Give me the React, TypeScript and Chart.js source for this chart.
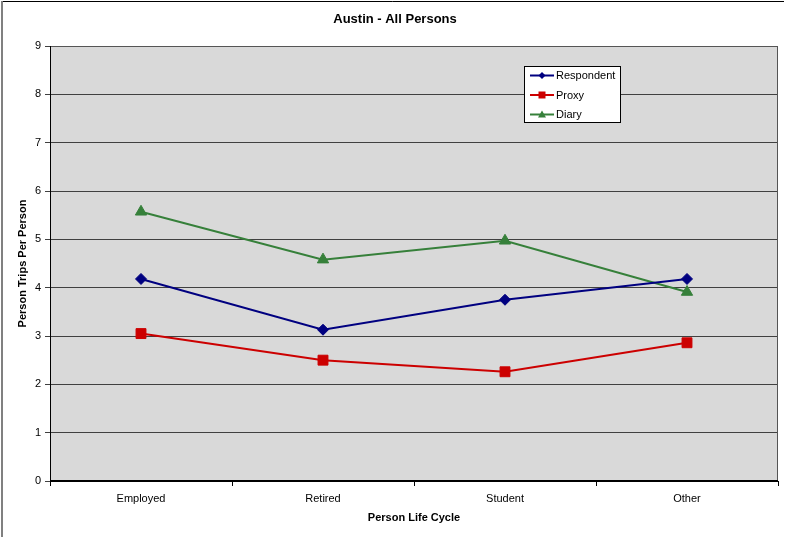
import React, { useEffect, useRef } from "react";
import { Chart, registerables } from "chart.js";

Chart.register(...registerables);

const categories = ["Employed", "Retired", "Student", "Other"];
const respondent = [4.18, 3.13, 3.75, 4.18];
const proxy = [3.05, 2.5, 2.26, 2.86];
const diary = [5.57, 4.58, 4.97, 3.91];
const yTicks = [0, 1, 2, 3, 4, 5, 6, 7, 8, 9];

const chartTitle = "Austin - All Persons";
const xTitle = "Person Life Cycle";
const yTitle = "Person Trips Per Person";

const FONT = "'Liberation Sans', Arial, sans-serif";

const decorPlugin = {
  id: "decor",
  beforeDraw(chart: any) {
    const { ctx, chartArea: a } = chart;
    ctx.save();
    ctx.fillStyle = "#ffffff";
    ctx.fillRect(0, 0, chart.width, chart.height);
    ctx.fillStyle = "#D9D9D9";
    ctx.fillRect(a.left, a.top, a.right - a.left, a.bottom - a.top);
    ctx.restore();
  },
  afterDatasetsDraw(chart: any) {
    const { ctx, chartArea: a } = chart;
    ctx.save();
    // plot border
    ctx.strokeStyle = "#555555";
    ctx.lineWidth = 1;
    ctx.strokeRect(a.left + 0.5, a.top + 0.5, a.right - a.left - 1, a.bottom - a.top);
    ctx.strokeStyle = "#000000";
    ctx.beginPath();
    ctx.moveTo(a.left + 0.5, a.top);
    ctx.lineTo(a.left + 0.5, a.bottom + 1);
    ctx.stroke();
    ctx.lineWidth = 2;
    ctx.beginPath();
    ctx.moveTo(a.left, a.bottom);
    ctx.lineTo(a.right, a.bottom);
    ctx.stroke();
    // outer border
    ctx.strokeStyle = "#000000";
    ctx.lineWidth = 1;
    ctx.beginPath();
    ctx.moveTo(784, 1.5);
    ctx.lineTo(1.5, 1.5);
    ctx.stroke();
    ctx.strokeStyle = "#808080";
    ctx.lineWidth = 2;
    ctx.beginPath();
    ctx.moveTo(2, 1);
    ctx.lineTo(2, 537);
    ctx.stroke();
    // title
    ctx.fillStyle = "#000000";
    ctx.font = `bold 13px ${FONT}`;
    ctx.textAlign = "center";
    ctx.textBaseline = "middle";
    ctx.fillText(chartTitle, 395, 19);
    // legend
    const lx = 524, ly = 66, lw = 96, lh = 56;
    ctx.fillStyle = "#ffffff";
    ctx.fillRect(lx, ly, lw, lh);
    ctx.strokeStyle = "#000000";
    ctx.lineWidth = 1;
    ctx.strokeRect(lx + 0.5, ly + 0.5, lw, lh);
    const items = chart.data.datasets;
    items.forEach((ds: any, i: number) => {
      const y = ly + 9.5 + i * 19.5;
      ctx.strokeStyle = ds.borderColor;
      ctx.lineWidth = 2;
      ctx.beginPath();
      ctx.moveTo(lx + 6, y);
      ctx.lineTo(lx + 30, y);
      ctx.stroke();
      ctx.fillStyle = ds.backgroundColor;
      const cx = lx + 18;
      ctx.beginPath();
      if (ds.pointStyle === "rectRot") {
        ctx.moveTo(cx, y - 3.5); ctx.lineTo(cx + 3.5, y); ctx.lineTo(cx, y + 3.5); ctx.lineTo(cx - 3.5, y);
      } else if (ds.pointStyle === "rect") {
        ctx.rect(cx - 3.5, y - 3.5, 7, 7);
      } else {
        ctx.moveTo(cx, y - 4); ctx.lineTo(cx + 4, y + 3); ctx.lineTo(cx - 4, y + 3);
      }
      ctx.closePath();
      ctx.fill();
      ctx.fillStyle = "#000000";
      ctx.font = `11px ${FONT}`;
      ctx.textAlign = "left";
      ctx.textBaseline = "middle";
      ctx.fillText(ds.label, lx + 32, y + 0.5);
    });
    ctx.restore();
  },
};

export default function App() {
  const ref = useRef<HTMLCanvasElement | null>(null);
  useEffect(() => {
    document.body.style.margin = "0";
    const canvas = ref.current!;
    const chart = new Chart(canvas, {
      type: "line",
      data: {
        labels: categories,
        datasets: [
          {
            label: "Respondent",
            data: respondent,
            borderColor: "#000080",
            backgroundColor: "#000080",
            pointStyle: "rectRot",
            pointRadius: 5.5,
            pointBorderWidth: 1,
            borderWidth: 2,
            tension: 0,
          },
          {
            label: "Proxy",
            data: proxy,
            borderColor: "#CC0000",
            backgroundColor: "#CC0000",
            pointStyle: "rect",
            pointRadius: 7,
            pointBorderWidth: 1,
            borderWidth: 2,
            tension: 0,
          },
          {
            label: "Diary",
            data: diary,
            borderColor: "#36803A",
            backgroundColor: "#36803A",
            pointStyle: "triangle",
            pointRadius: 6.5,
            pointBorderWidth: 1,
            borderWidth: 2,
            tension: 0,
          },
        ],
      },
      options: {
        responsive: false,
        animation: false,
        events: [],
        layout: { padding: { top: 46, right: 11, left: 0, bottom: 0 } },
        plugins: {
          legend: { display: false },
          title: { display: false },
          tooltip: { enabled: false },
        },
        scales: {
          x: {
            type: "category",
            offset: true,
            afterFit: (s: any) => { s.height = 56; },
            grid: {
              offset: true,
              drawOnChartArea: false,
              drawTicks: true,
              tickLength: 5,
              color: "#000000",
            },
            border: { display: false },
            ticks: {
              color: "#000000",
              font: { family: FONT, size: 11 },
              padding: 6,
              maxRotation: 0,
            },
            title: {
              display: true,
              text: xTitle,
              color: "#000000",
              font: { family: FONT, size: 11, weight: "bold" },
              padding: { top: 0, bottom: 12 },
            },
          },
          y: {
            min: 0,
            max: 9,
            afterFit: (s: any) => { s.width = 50; },
            afterBuildTicks: (s: any) => { s.ticks = yTicks.map((v) => ({ value: v })); },
            grid: {
              drawTicks: true,
              tickLength: 5,
              color: "#404040",
              lineWidth: 1,
            },
            border: { display: false },
            ticks: {
              color: "#000000",
              font: { family: FONT, size: 11 },
              padding: 4,
            },
            title: {
              display: true,
              text: yTitle,
              color: "#000000",
              font: { family: FONT, size: 11, weight: "bold" },
              padding: { top: 16, bottom: 0 },
            },
          },
        },
      },
      plugins: [decorPlugin],
    } as any);
    return () => chart.destroy();
  }, []);
  return <canvas ref={ref} width={789} height={537} style={{ display: "block" }} />;
}
